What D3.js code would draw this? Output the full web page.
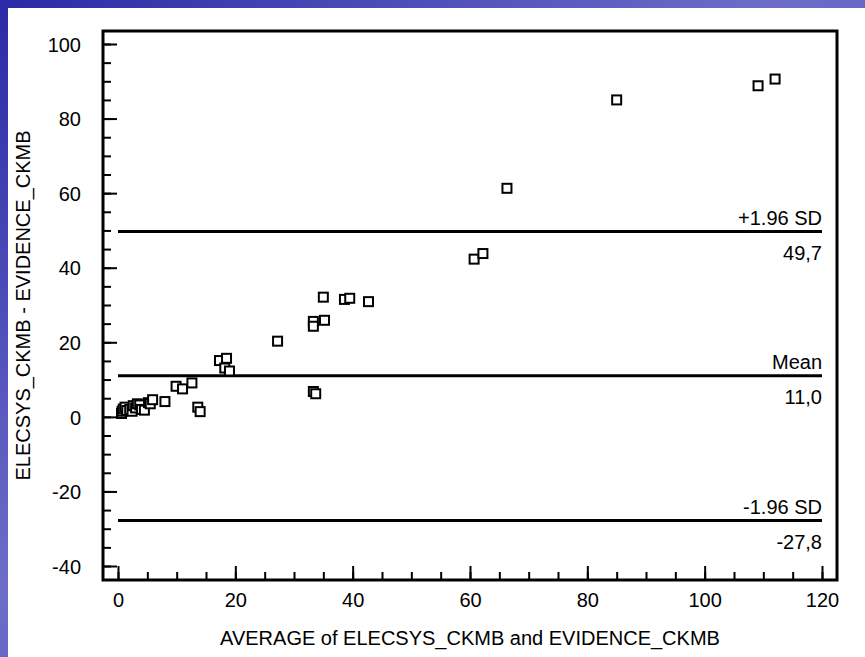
<!DOCTYPE html>
<html>
<head>
<meta charset="utf-8">
<script src="https://cdn.jsdelivr.net/npm/d3@7"></script>
<style>
  body { margin: 0; background: #fff; }
  svg text { font-family: "Liberation Sans", Arial, sans-serif; fill: #000; }
</style>
</head>
<body>
<svg id="chart" width="865" height="657"></svg>
<script>
// Bland-Altman: average vs difference
var avgValues = [0.6, 0.7, 0.9, 1.2, 1.5, 2.0, 2.4, 2.6, 3.0, 3.3, 3.7, 4.0, 4.5, 5.2, 5.5, 5.9,
  8.0, 9.9, 11.0, 12.6, 13.6, 14.0, 17.3, 18.5, 18.2, 19.0, 27.2, 33.3, 33.3, 35.2, 33.3, 33.7,
  35.0, 38.6, 39.5, 42.7, 60.7, 62.2, 66.3, 85.0, 109.1, 112.0];
var diffValues = [0.9, 1.5, 2.1, 2.6, 1.7, 2.0, 1.5, 3.0, 2.4, 3.5, 3.2, 2.0, 1.8, 3.8, 3.5, 4.6,
  4.1, 8.2, 7.5, 9.1, 2.6, 1.4, 15.1, 15.7, 13.1, 12.3, 20.3, 25.6, 24.3, 25.9, 6.8, 6.2,
  32.1, 31.5, 31.8, 30.9, 42.3, 43.8, 61.3, 85.0, 88.8, 90.6];

var refNames = ["+1.96 SD", "Mean", "-1.96 SD"];
var refValues = [49.7, 11.0, -27.8];
var refLabels = ["49,7", "11,0", "-27,8"];

var xTicks = [0, 20, 40, 60, 80, 100, 120];
var yTicks = [-40, -20, 0, 20, 40, 60, 80, 100];

var xTitle = "AVERAGE of ELECSYS_CKMB and EVIDENCE_CKMB";
var yTitle = "ELECSYS_CKMB - EVIDENCE_CKMB";

var svg = d3.select("#chart");

// slide background: blue band on top and left
var defs = svg.append("defs");
var grad = defs.append("linearGradient").attr("id", "bg").attr("x1", 0).attr("y1", 0).attr("x2", 1).attr("y2", 1);
grad.append("stop").attr("offset", "0%").attr("stop-color", "#2a2aa6");
grad.append("stop").attr("offset", "45%").attr("stop-color", "#6d6dc9");
grad.append("stop").attr("offset", "100%").attr("stop-color", "#2c2cab");
svg.append("rect").attr("width", 865).attr("height", 657).attr("fill", "url(#bg)");
svg.append("rect").attr("x", 8).attr("y", 8).attr("width", 857).attr("height", 649).attr("fill", "#fff");

var frame = { left: 103, right: 837, top: 31, bottom: 580 };

var x = d3.scaleLinear().domain([0, 120]).range([118, 822]);
var y = d3.scaleLinear().domain([-40, 100]).range([566, 44]);

//minor ticks every 5, plain hyphen for negatives
var minorX = d3.range(0, 121, 5);
var minorY = d3.range(-40, 101, 5);
var fmt = function (d) { return String(d); };

function styleAxis(g) {
  g.selectAll(".domain").remove();
  g.selectAll("line").attr("stroke", "#000").attr("stroke-width", 2);
  g.selectAll("text").attr("font-size", 20);
}

var xPos = "translate(0," + frame.bottom + ")";
svg.append("g").attr("transform", xPos)
  .call(d3.axisBottom(x).tickValues(minorX).tickSize(-8).tickFormat(""))
  .call(styleAxis);
svg.append("g").attr("transform", xPos)
  .call(d3.axisBottom(x).tickValues(xTicks).tickSize(-14).tickPadding(27).tickFormat(fmt))
  .call(styleAxis)
  .selectAll("text").attr("dy", 0);

var yPos = "translate(" + frame.left + ",0)";
svg.append("g").attr("transform", yPos)
  .call(d3.axisLeft(y).tickValues(minorY).tickSize(-8).tickFormat(""))
  .call(styleAxis);
svg.append("g").attr("transform", yPos)
  .call(d3.axisLeft(y).tickValues(yTicks).tickSize(-14).tickPadding(22).tickFormat(fmt))
  .call(styleAxis)
  .selectAll("text").attr("dy", "0.36em");

svg.append("rect")
  .attr("x", frame.left).attr("y", frame.top)
  .attr("width", frame.right - frame.left).attr("height", frame.bottom - frame.top)
  .attr("fill", "none").attr("stroke", "#000").attr("stroke-width", 3);

// reference lines with labels
var refs = svg.append("g").selectAll("g").data(refValues).enter().append("g");
refs.append("line")
  .attr("x1", x(0)).attr("x2", x(120))
  .attr("y1", function (d) { return y(d); }).attr("y2", function (d) { return y(d); })
  .attr("stroke", "#000").attr("stroke-width", 3);
refs.append("text")
  .attr("x", x(120)).attr("y", function (d) { return y(d) - 7; })
  .attr("text-anchor", "end").attr("font-size", 20)
  .text(function (d, i) { return refNames[i]; });
refs.append("text")
  .attr("x", x(120)).attr("y", function (d) { return y(d) + 28; })
  .attr("text-anchor", "end").attr("font-size", 20)
  .text(function (d, i) { return refLabels[i]; });

// points: hollow squares
svg.append("g").selectAll("rect").data(avgValues).enter().append("rect")
  .attr("x", function (d) { return x(d) - 4.5; })
  .attr("y", function (d, i) { return y(diffValues[i]) - 4.5; })
  .attr("width", 9).attr("height", 9)
  .attr("fill", "#fff").attr("stroke", "#000").attr("stroke-width", 2);

// axis titles
svg.append("text")
  .attr("x", (frame.left + frame.right) / 2).attr("y", 645)
  .attr("text-anchor", "middle").attr("font-size", 20)
  .text(xTitle);
svg.append("text")
  .attr("transform", "translate(30," + (frame.top + frame.bottom) / 2 + ") rotate(-90)")
  .attr("text-anchor", "middle").attr("font-size", 20)
  .text(yTitle);
</script>
</body>
</html>
